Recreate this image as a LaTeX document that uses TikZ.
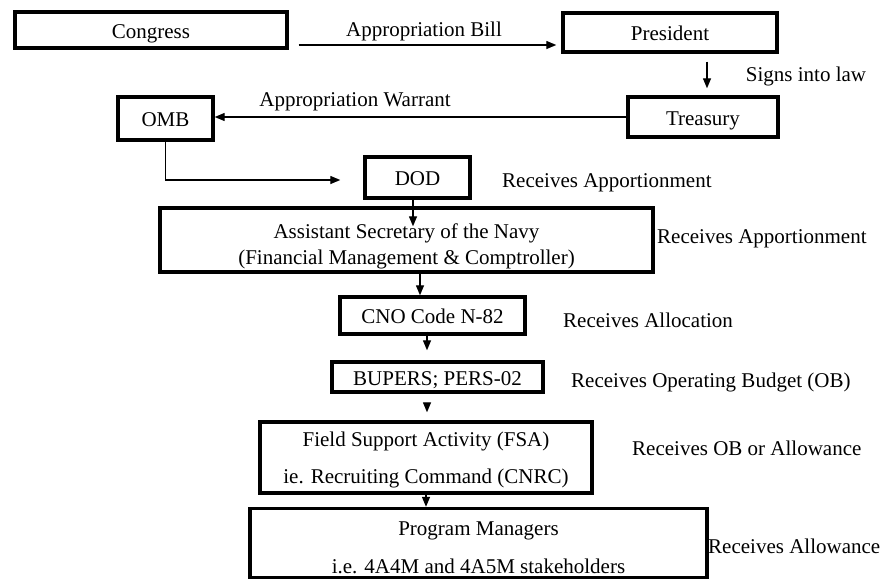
\documentclass[tikz,border=0pt]{standalone}
\usepackage{fontspec}
\setmainfont{Liberation Serif}
\usetikzlibrary{arrows.meta}
\begin{document}
\begin{tikzpicture}[x=1pt,y=-1pt,
  mbox/.style={draw, line width=3.4pt, inner sep=0pt, align=center,
    font=\fontsize{21}{26}\selectfont},
  box/.style={mbox, text height=16pt, text depth=0pt},
  lbl/.style={inner sep=0pt, font=\fontsize{21}{26}\selectfont,
    text height=14pt, text depth=4pt},
  arr/.style={line width=1.3pt, -{Triangle[length=10pt,width=8pt]}}]
\useasboundingbox[fill=white] (0,0) rectangle (886,579);

% boxes
\node[box, minimum width=272pt, minimum height=36pt] (congress) at (151,30) {Congress};
\node[box, minimum width=214pt, minimum height=39pt] (president) at (670,32.5) {President};
\node[box, minimum width=150pt, minimum height=40pt] (treasury) at (703,117) {Treasury};
\node[box, minimum width=95pt, minimum height=43pt] (omb) at (165.5,118.5) {OMB};
\node[box, minimum width=105pt, minimum height=41pt] (dod) at (417.5,177.5) {DOD};
\node[mbox, minimum width=493pt, minimum height=64pt] (asn) at (406.5,240)
  {\rule{0pt}{28.5pt}Assistant Secretary of the Navy\\(Financial Management \& Comptroller)};
\node[box, minimum width=185pt, minimum height=37pt] (cno) at (432.5,315.5) {CNO Code N-82};
\node[box, minimum width=211pt, minimum height=30pt] (bupers) at (437.5,377) {BUPERS; PERS-02};
\node[mbox, minimum width=332pt, minimum height=71pt] (fsa) at (426,457.5)
  {\rule{0pt}{20.5pt}Field Support Activity (FSA)\\[11pt]ie. Recruiting Command (CNRC)};
\node[mbox, minimum width=457pt, minimum height=69pt] (pm) at (478.5,543)
  {\rule{0pt}{22.5pt}Program Managers\\[12pt]i.e. 4A4M and 4A5M stakeholders};

% labels
\node[lbl] (lbill) at (424,31) {Appropriation Bill};
\node[lbl] (lsigns) at (806,76) {Signs into law};
\node[lbl] (lwarrant) at (355,101) {Appropriation Warrant};
\node[lbl, anchor=west] (ldod) at (502,182) {Receives Apportionment};
\node[lbl, anchor=west] (lasn) at (657,238) {Receives Apportionment};
\node[lbl, anchor=west] (lcno) at (563,322) {Receives Allocation};
\node[lbl, anchor=west] (lbupers) at (571,382) {Receives Operating Budget (OB)};
\node[lbl, anchor=west] (lfsa) at (632,450) {Receives OB or Allowance};
\node[lbl, anchor=west] (lpm) at (708,548) {Receives Allowance};

% connectors
\draw[arr] ([xshift=10pt,yshift=-15pt]congress.east) -- ([xshift=-5pt,yshift=-12.5pt]president.west);
\draw[arr] ([xshift=37pt,yshift=-8pt]president.south) -- ([xshift=4pt,yshift=7pt]treasury.north);
\draw[arr] (treasury.west) -- (omb.east |- treasury.west);
\draw[arr] (omb.south) |- ([xshift=-23pt,yshift=-2.5pt]dod.west);
\draw[arr] ([xshift=-4.5pt]dod.south) -- ([xshift=6.5pt,yshift=-20pt]asn.north);
\draw[arr] ([xshift=13.5pt]asn.south) -- ([xshift=-12.5pt]cno.north);
\draw[arr] ([xshift=-5.5pt,yshift=4pt]cno.south) -- ([xshift=-10.5pt,yshift=10pt]bupers.north);
\draw[arr] ([xshift=-10.5pt,yshift=-10pt]bupers.south) -- ([xshift=1pt,yshift=8pt]fsa.north);
\draw[arr] (fsa.south) -- (fsa.south |- pm.north);
\end{tikzpicture}
\end{document}
